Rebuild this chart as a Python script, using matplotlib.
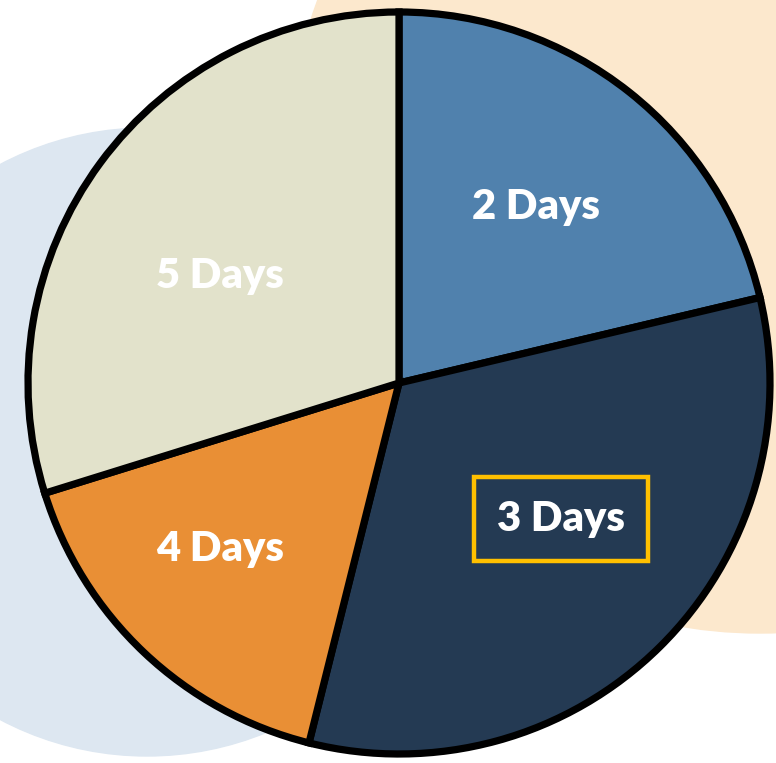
import matplotlib.pyplot as plt
from matplotlib.patches import Circle

labels = ["2 Days", "3 Days", "4 Days", "5 Days"]
shares = [21.3, 32.6, 16.3, 29.8]
colors = ["#5081ad", "#243a53", "#e98f35", "#e2e2cb"]

W, H = 776, 763
cx, cy, r = 399, H - 383, 371
fig = plt.figure(figsize=(W / 100, H / 100), dpi=100)
ax = fig.add_axes([0, 0, 1, 1])

# decorative circles behind the pie
ax.add_patch(Circle((760, H - 162), 471, color="#fce8cd", zorder=0))
ax.add_patch(Circle((147, H - 442), 314, color="#dde7f1", zorder=0))

wedges, texts = ax.pie(
    shares, labels=labels, colors=colors, startangle=90, counterclock=False,
    center=(cx, cy), radius=r, labeldistance=0.6,
    wedgeprops=dict(edgecolor="black", linewidth=5.2),
    textprops=dict(color="white", fontsize=30, fontweight="heavy", family="Lato",
                   ha="center", va="center"),
    frame=True,
)
ax.set_xlim(0, W)
ax.set_ylim(0, H)
ax.set_aspect("equal")
ax.axis("off")

# nudge labels to where they sit in the original slide
offsets = [(137, 176), (162, -136), (-179, -166), (-179, 107)]
for t, (dx, dy) in zip(texts, offsets):
    t.set_position((cx + dx, cy + dy))

texts[1].set_bbox(dict(facecolor="none", edgecolor="#ffc000", linewidth=3.2,
                       boxstyle="square,pad=0.55"))

fig.savefig("out.png", dpi=100)
